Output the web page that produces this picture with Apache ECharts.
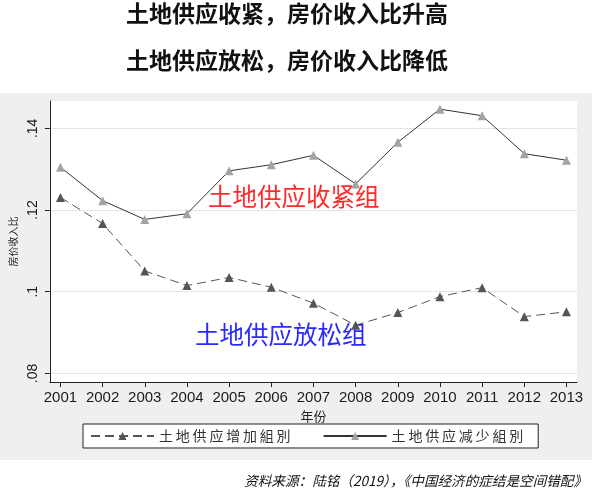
<!DOCTYPE html>
<html style="height: 100%">
  <head>
    <meta charset="utf-8" />
  </head>
  <body style="height: 100%; margin: 0; background: #fff">
    <div id="container" style="height: 100%"></div>
    <script
      type="text/javascript"
      src="https://cdn.jsdelivr.net/npm/echarts@6.0.0/dist/echarts.min.js"
    ></script>

    <script type="text/javascript">
      var dom = document.getElementById("container");
      var myChart = echarts.init(dom);

      // 年份
      var years = [2001, 2002, 2003, 2004, 2005, 2006, 2007, 2008, 2009, 2010, 2011, 2012, 2013];
      // 土地供应增加組別（虚线）
      var increaseGroup = [0.1231, 0.1167, 0.1051, 0.1015, 0.1035, 0.1011, 0.0972, 0.0918, 0.0949, 0.0988, 0.101, 0.0939, 0.0951];
      // 土地供应减少組別（实线）
      var decreaseGroup = [0.1305, 0.1223, 0.1177, 0.1191, 0.1296, 0.1311, 0.1334, 0.1264, 0.1366, 0.1447, 0.1431, 0.1338, 0.1322];
      // y 轴刻度
      var yTicks = [0.08, 0.1, 0.12, 0.14];
      var yTickLabels = [".08", ".1", ".12", ".14"];

      var seriesNames = ["土地供应增加組別", "土地供应减少組別"];

      function toPairs(values) {
        return years.map(function (y, i) {
          return [y, values[i]];
        });
      }

      var cjk = '"Noto Sans CJK SC", sans-serif';
      var latin = '"Liberation Sans", Arial, sans-serif';

      var option = {
        animation: false,
        title: [
          {
            text: "土地供应收紧，房价收入比升高",
            left: 287,
            top: 2,
            textAlign: "center",
            padding: 0,
            textStyle: { fontSize: 23, fontWeight: "bold", color: "#111", fontFamily: cjk },
          },
          {
            text: "土地供应放松，房价收入比降低",
            left: 287,
            top: 49,
            textAlign: "center",
            padding: 0,
            textStyle: { fontSize: 23, fontWeight: "bold", color: "#111", fontFamily: cjk },
          },
        ],
        graphic: [
          {
            type: "rect",
            z: -10,
            silent: true,
            shape: { x: 0, y: 93, width: 592, height: 367 },
            style: { fill: "#efefef" },
          },
          {
            type: "text",
            x: 208,
            y: 197,
            style: {
              text: "土地供应收紧组",
              fill: "#ff2a2a",
              font: "24.5px " + cjk,
              verticalAlign: "middle",
            },
          },
          {
            type: "text",
            x: 195,
            y: 335,
            style: {
              text: "土地供应放松组",
              fill: "#2a2aff",
              font: "24.5px " + cjk,
              verticalAlign: "middle",
            },
          },
          {
            type: "text",
            x: 587,
            y: 481,
            style: {
              text: "资料来源：陆铭（2019），《中国经济的症结是空间错配》",
              fill: "#111",
              font: "italic 13.6px " + cjk,
              textAlign: "right",
              verticalAlign: "middle",
            },
          },
        ],
        legend: {
          left: 83,
          top: 424,
          orient: "horizontal",
          data: seriesNames,
          itemWidth: 63,
          itemHeight: 10,
          itemGap: 32,
          padding: [5, 15, 5, 7],
          borderColor: "#222",
          borderWidth: 1,
          borderRadius: 0,
          backgroundColor: "#fff",
          formatter: function (name) {
            return name.split("").join("\u2009");
          },
          textStyle: { fontSize: 14, color: "#333", fontFamily: cjk },
        },
        grid: {
          left: 44,
          right: 15,
          top: 101,
          bottom: 109,
          show: true,
          backgroundColor: "#fff",
          borderWidth: 0,
        },
        xAxis: {
          type: "value",
          min: 2000.75,
          max: 2013.25,
          name: "年份",
          nameLocation: "middle",
          nameGap: 22,
          nameTextStyle: { fontSize: 13, color: "#222", fontFamily: cjk },
          axisLine: { onZero: false, lineStyle: { color: "#222", width: 1 } },
          axisTick: { customValues: years, length: 5, lineStyle: { color: "#222" } },
          axisLabel: {
            customValues: years,
            margin: 8,
            fontSize: 15,
            color: "#1a1a1a",
            fontFamily: latin,
            formatter: function (v) {
              return String(Math.round(v));
            },
          },
          splitLine: { show: false },
        },
        yAxis: {
          type: "value",
          min: 0.0779,
          max: 0.1467,
          name: "房价收入比",
          nameLocation: "middle",
          nameRotate: 90,
          nameGap: 30,
          nameTextStyle: { fontSize: 10, color: "#222", fontFamily: cjk },
          axisLine: { show: true, onZero: false, lineStyle: { color: "#222", width: 1 } },
          axisTick: { show: true, customValues: yTicks, length: 5, lineStyle: { color: "#222" } },
          axisLabel: {
            customValues: yTicks,
            rotate: 90,
            margin: 10,
            fontSize: 14,
            color: "#1a1a1a",
            fontFamily: latin,
            formatter: function (v) {
              for (var i = 0; i < yTicks.length; i++) {
                if (Math.abs(yTicks[i] - v) < 1e-9) return yTickLabels[i];
              }
              return "";
            },
          },
          splitLine: { show: true, lineStyle: { color: "#e4e4e4", width: 1 } },
        },
        series: [
          {
            name: seriesNames[0],
            type: "line",
            data: toPairs(increaseGroup),
            symbol: "triangle",
            symbolSize: 9,
            itemStyle: { color: "#555" },
            lineStyle: { color: "#555", width: 1, type: [9, 5] },
          },
          {
            name: seriesNames[1],
            type: "line",
            data: toPairs(decreaseGroup),
            symbol: "triangle",
            symbolSize: 9,
            itemStyle: { color: "#a3a3a3" },
            lineStyle: { color: "#333", width: 1 },
          },
        ],
      };

      myChart.setOption(option);
    </script>
  </body>
</html>
